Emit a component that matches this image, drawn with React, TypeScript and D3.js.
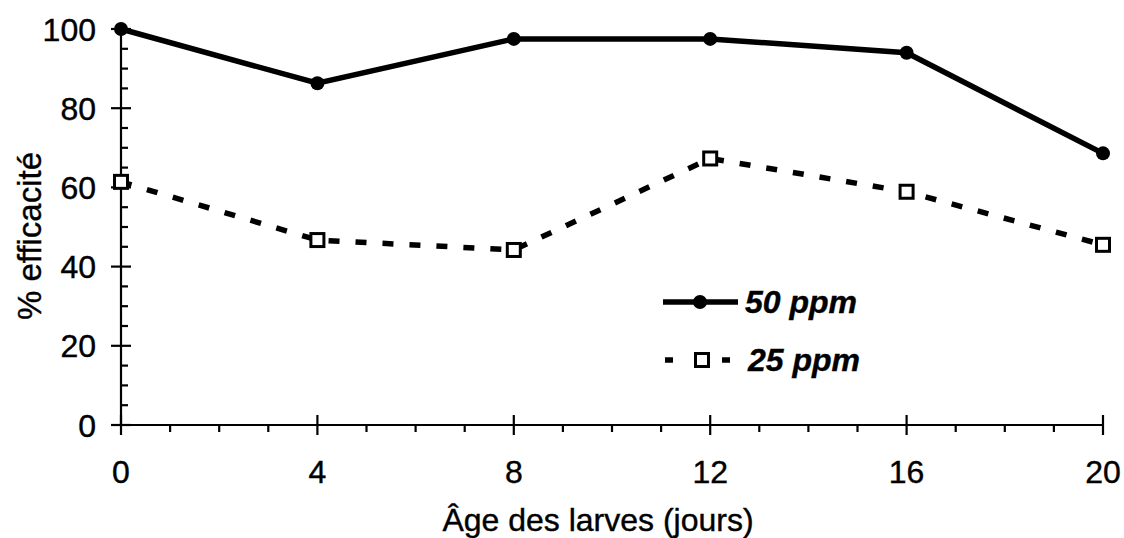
import React from "react";
import * as d3 from "d3";

const days = [0, 4, 8, 12, 16, 20];
const ppm50 = [100, 86.3, 97.5, 97.5, 94, 68.6];
const ppm25 = [61.4, 46.7, 44.2, 67.3, 58.9, 45.5];
const xMajorTicks = [0, 4, 8, 12, 16, 20];
const yMajorTicks = [0, 20, 40, 60, 80, 100];
const xTitle = "Âge des larves (jours)";
const yTitle = "% efficacité";
const seriesNames = ["50 ppm", "25 ppm"];

const W = 1124;
const H = 538;
const FONT = "'Liberation Sans', Arial, Helvetica, sans-serif";

export default function App() {
  const x = d3.scaleLinear().domain([0, 20]).range([121, 1103]);
  const y = d3.scaleLinear().domain([0, 100]).range([425, 29]);

  const xMinor = d3.range(0, 21, 1).filter((v) => v % 4 !== 0);
  const yMinor = d3.range(0, 101, 5).filter((v) => v % 20 !== 0);

  const line = d3
    .line<number>()
    .x((_, i) => x(days[i]))
    .y((d) => y(d));

  const p50 = line(ppm50) || "";
  const p25 = line(ppm25) || "";

  const textStroke = { stroke: "#000", strokeWidth: 0.4 };

  return (
    <svg
      width={W}
      height={H}
      style={{ position: "absolute", left: 0, top: 0, background: "#fff" }}
      fontFamily={FONT}
    >
      <rect x={0} y={0} width={W} height={H} fill="#fff" />
      {/* axes */}
      <line x1={x(0)} x2={x(0)} y1={y(0)} y2={y(100)} stroke="#000" strokeWidth={2.2} />
      <line x1={x(0)} x2={x(20)} y1={y(0)} y2={y(0)} stroke="#000" strokeWidth={2.2} />
      {yMinor.map((v) => (
        <line key={"ym" + v} x1={x(0)} x2={x(0) + 7} y1={y(v)} y2={y(v)} stroke="#000" strokeWidth={2.2} />
      ))}
      {yMajorTicks.map((v) => (
        <g key={"yM" + v}>
          <line x1={x(0) - 10} x2={x(0) + 10} y1={y(v)} y2={y(v)} stroke="#000" strokeWidth={2.2} />
          <text
            x={96}
            y={y(v)}
            dy="0.36em"
            textAnchor="end"
            fontSize={32}
            fill="#000"
            {...textStroke}
          >
            {v}
          </text>
        </g>
      ))}
      {xMinor.map((v) => (
        <line key={"xm" + v} x1={x(v)} x2={x(v)} y1={y(0)} y2={y(0) + 7} stroke="#000" strokeWidth={2.2} />
      ))}
      {xMajorTicks.map((v) => (
        <g key={"xM" + v}>
          <line x1={x(v)} x2={x(v)} y1={y(0) - 10} y2={y(0) + 10} stroke="#000" strokeWidth={2.2} />
          <text x={x(v)} y={483} textAnchor="middle" fontSize={32} fill="#000" {...textStroke}>
            {v}
          </text>
        </g>
      ))}
      {/* titles */}
      <text x={598} y={531} textAnchor="middle" fontSize={32} fill="#000" {...textStroke}>
        {xTitle}
      </text>
      <text
        transform={`translate(41,236) rotate(-90)`}
        textAnchor="middle"
        fontSize={33}
        fill="#000"
        {...textStroke}
      >
        {yTitle}
      </text>

      {/* series */}
      <path d={p25} fill="none" stroke="#000" strokeWidth={5.5} strokeDasharray="11,16" />
      <path d={p50} fill="none" stroke="#000" strokeWidth={5.5} />
      {ppm50.map((v, i) => (
        <circle key={"c" + i} cx={x(days[i])} cy={y(v)} r={7} fill="#000" />
      ))}
      {ppm25.map((v, i) => (
        <rect
          key={"s" + i}
          x={x(days[i]) - 6.5}
          y={y(v) - 6.5}
          width={13}
          height={13}
          fill="#fff"
          stroke="#000"
          strokeWidth={3}
        />
      ))}

      {/* legend */}
      <line x1={663} x2={738} y1={302} y2={302} stroke="#000" strokeWidth={5.5} />
      <circle cx={700} cy={302} r={7} fill="#000" />
      <text x={745} y={313} fontSize={32} fontWeight="bold" fontStyle="italic" fill="#000" {...textStroke}>
        {seriesNames[0]}
      </text>
      <line x1={665} x2={673} y1={360} y2={360} stroke="#000" strokeWidth={5.5} />
      <line x1={722} x2={730} y1={360} y2={360} stroke="#000" strokeWidth={5.5} />
      <rect x={695.5} y={353.5} width={13} height={13} fill="#fff" stroke="#000" strokeWidth={3} />
      <text x={748} y={371} fontSize={32} fontWeight="bold" fontStyle="italic" fill="#000" {...textStroke}>
        {seriesNames[1]}
      </text>
    </svg>
  );
}
